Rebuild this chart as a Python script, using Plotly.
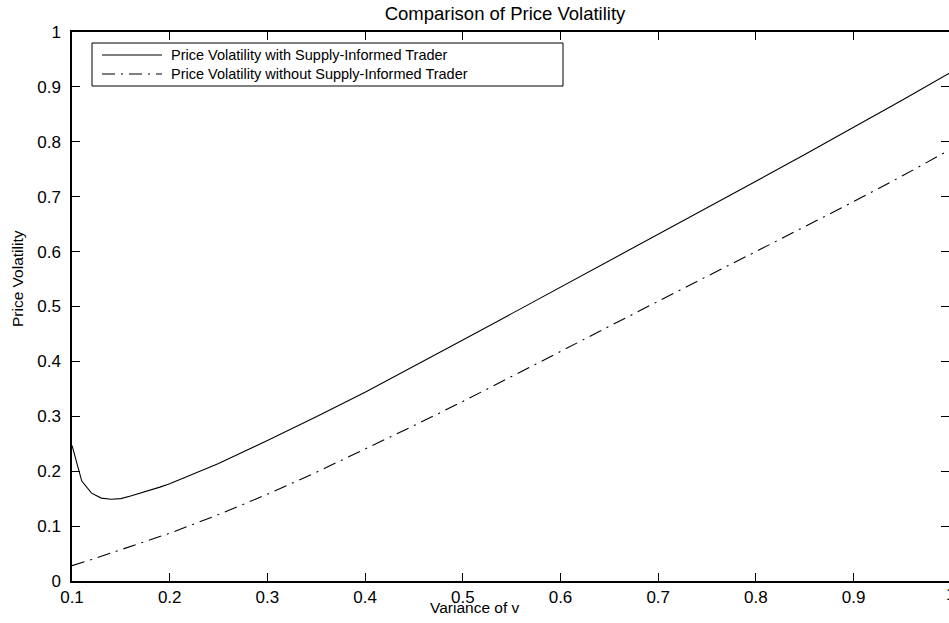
import plotly.graph_objects as go

# ---------------- data ----------------
variance = [0.10, 0.11, 0.12, 0.13, 0.14, 0.15, 0.16, 0.17, 0.18, 0.19, 0.20,
            0.25, 0.30, 0.35, 0.40, 0.45, 0.50, 0.55, 0.60, 0.65, 0.70,
            0.75, 0.80, 0.85, 0.90, 0.95, 1.00]
vol_with = [0.247, 0.182, 0.160, 0.151, 0.149, 0.150, 0.155, 0.160, 0.166, 0.171, 0.177,
            0.214, 0.256, 0.299, 0.344, 0.391, 0.439, 0.487, 0.535, 0.584, 0.632,
            0.680, 0.728, 0.777, 0.826, 0.876, 0.927]
vol_without = [0.028, 0.033, 0.039, 0.045, 0.051, 0.057, 0.063, 0.069, 0.075, 0.081, 0.087,
               0.121, 0.158, 0.198, 0.240, 0.283, 0.327, 0.372, 0.418, 0.464, 0.510,
               0.555, 0.600, 0.645, 0.691, 0.738, 0.787]

series_names = ["Price Volatility with Supply-Informed Trader",
                "Price Volatility without Supply-Informed Trader"]
x_ticks = [0.1, 0.2, 0.3, 0.4, 0.5, 0.6, 0.7, 0.8, 0.9]
y_ticks = [0, 0.1, 0.2, 0.3, 0.4, 0.5, 0.6, 0.7, 0.8, 0.9, 1]
title_text = "Comparison of Price Volatility"
x_title = "Variance of v"
y_title = "Price Volatility"

# ---------------- layout geometry ----------------
W, H = 949, 623
L, R, T, B = 72, 0, 32, 42
PW, PH = W - L - R, H - T - B
FONT = "Liberation Sans, Arial, Helvetica, sans-serif"


def px(xpix):
    return (xpix - L) / PW


def py(ypix):
    return (H - B - ypix) / PH


fig = go.Figure()
fig.add_trace(go.Scatter(x=variance, y=vol_with, mode="lines", name=series_names[0],
                         line=dict(color="black", width=1.1), showlegend=False))
fig.add_trace(go.Scatter(x=variance, y=vol_without, mode="lines", name=series_names[1],
                         line=dict(color="black", width=1.1, dash="13px,6px,2px,6px"),
                         showlegend=False))
# empty trace so the right-hand tick-only axis is drawn
fig.add_trace(go.Scatter(x=[], y=[], yaxis="y2", showlegend=False, hoverinfo="skip"))

tick_common = dict(showgrid=False, zeroline=False, ticks="inside", ticklen=8,
                   tickcolor="black", tickwidth=1,
                   tickfont=dict(family=FONT, size=17, color="black"))

fig.update_layout(
    xaxis=dict(range=[0.1, 0.1 + 0.1 * PW / 97.7], tickvals=x_ticks, ticklabelstandoff=0,
               showline=True, linecolor="black", linewidth=1.5, mirror="ticks", **tick_common),
    yaxis=dict(range=[0, 1], tickvals=y_ticks, ticklabelstandoff=6,
               showline=True, linecolor="black", linewidth=1.5, mirror=False, **tick_common),
    yaxis2=dict(range=[0, 1], tickvals=y_ticks, overlaying="y", side="right",
                showline=False, showticklabels=False, **tick_common),
)

shapes = [
    dict(type="rect", xref="paper", yref="paper", x0=px(92), x1=px(563), y0=py(86), y1=py(43),
         line=dict(color="black", width=1), fillcolor="white", layer="above"),
    dict(type="line", xref="paper", yref="paper", x0=px(102), x1=px(162), y0=py(55), y1=py(55),
         line=dict(color="black", width=1.1), layer="above"),
    dict(type="line", xref="paper", yref="paper", x0=px(102), x1=px(162), y0=py(74), y1=py(74),
         line=dict(color="black", width=1.1, dash="13px,6px,2px,6px"), layer="above"),
]

annotations = [
    dict(text=series_names[0], xref="paper", yref="paper", x=px(169), y=py(55),
         xanchor="left", yanchor="middle", showarrow=False,
         font=dict(family=FONT, size=14.5, color="black")),
    dict(text=series_names[1], xref="paper", yref="paper", x=px(169), y=py(74),
         xanchor="left", yanchor="middle", showarrow=False,
         font=dict(family=FONT, size=14.5, color="black")),
    dict(text=x_title, xref="paper", yref="paper", x=px(475), y=py(607),
         xanchor="center", yanchor="middle", showarrow=False,
         font=dict(family=FONT, size=15.5, color="black")),
    dict(text=y_title, xref="paper", yref="paper", x=px(17), y=py(278),
         xanchor="center", yanchor="middle", showarrow=False, textangle=-90,
         font=dict(family=FONT, size=15.5, color="black")),
    dict(text="1", xref="paper", yref="paper", x=px(951), y=py(594),
         xanchor="center", yanchor="middle", showarrow=False,
         font=dict(family=FONT, size=17, color="black")),
]

fig.update_layout(
    width=W, height=H,
    margin=dict(l=L, r=R, t=T, b=B, pad=0),
    paper_bgcolor="white", plot_bgcolor="white",
    title=dict(text=title_text, x=px(505), xref="paper", xanchor="center",
               y=1 - 14 / H, yref="container", yanchor="middle",
               font=dict(family=FONT, size=18.5, color="black")),
    shapes=shapes, annotations=annotations, showlegend=False,
)

fig.write_html("out.html", config={"displayModeBar": False},
               post_script="document.body.style.margin='0px';document.body.style.overflow='hidden';")
